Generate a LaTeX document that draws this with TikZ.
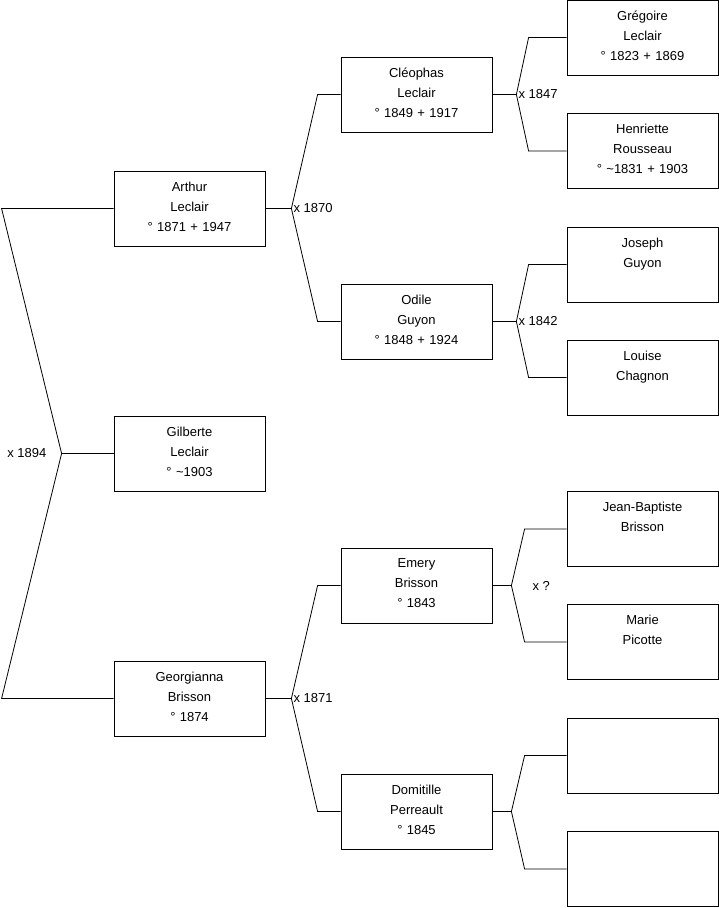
\documentclass[tikz,border=0pt]{standalone}
\usepackage{fontspec}
\setmainfont{Liberation Sans}
\usepackage{tikz}
\usetikzlibrary{calc, positioning}

\tikzset{
  person/.style={draw, line width=0.8pt, minimum width=151pt, minimum height=75pt,
    text width=145pt, inner sep=3pt, align=center, font=\fontsize{13}{20}\selectfont,
    execute at end node={\rule[-4pt]{0pt}{4pt}}},
  link/.style={line width=0.8pt},
  union/.style={font=\fontsize{13}{16}\selectfont, inner sep=1pt}
}

\begin{document}
\begin{tikzpicture}[x=1pt, y=-1pt]
  \useasboundingbox (0,0) rectangle (719,908);

  % Child
  \node[person] (gilberte) at (189.5,453.5) {Gilberte\\Leclair\\° \textasciitilde1903};

  % Parents
  \node[person] (arthur) at (189.5,208.5) {Arthur\\Leclair\\° 1871 + 1947};
  \node[person] (georgianna) at (189.5,698.5) {Georgianna\\Brisson\\° 1874};

  % Grandparents
  \node[person] (cleophas) at (416.5,94.5) {Cléophas\\Leclair\\° 1849 + 1917};
  \node[person] (odile) at (416.5,321.5) {Odile\\Guyon\\° 1848 + 1924};
  \node[person] (emery) at (416.5,585.5) {Emery\\Brisson\\° 1843};
  \node[person] (domitille) at (416.5,811.5) {Domitille\\Perreault\\° 1845};

  % Great-grandparents
  \node[person] (gregoire) at (642.5,37.5) {Grégoire\\Leclair\\° 1823 + 1869};
  \node[person] (henriette) at (642.5,151) {Henriette\\Rousseau\\° \textasciitilde1831 + 1903};
  \node[person] (joseph) at (642.5,264.5) {Joseph\\Guyon\\\mbox{}};
  \node[person] (louise) at (642.5,377.5) {Louise\\Chagnon\\\mbox{}};
  \node[person] (jeanbaptiste) at (642.5,529) {Jean-Baptiste\\Brisson\\\mbox{}};
  \node[person] (marie) at (642.5,642) {Marie\\Picotte\\\mbox{}};
  \node[person] (unknownA) at (642.5,755.5) {};
  \node[person] (unknownB) at (642.5,869) {};

  % Marriage forks
  \coordinate (x1894) at ($(gilberte.west)+(-52,0)$);
  \coordinate (x1870) at ($(arthur.east)+(26,0)$);
  \coordinate (x1871) at ($(georgianna.east)+(26,0)$);
  \coordinate (x1847) at ($(cleophas.east)+(24,0)$);
  \coordinate (x1842) at ($(odile.east)+(24,0)$);
  \coordinate (xunknown) at ($(emery.east)+(19,0)$);
  \coordinate (xperreault) at ($(domitille.east)+(19,0)$);

  % Connectors
  \draw[link] (gilberte) -- (x1894);
  \draw[link] (arthur) -- ($(arthur.west)+(-112,0)$) -- (x1894)
    -- ($(georgianna.west)+(-112,0)$) -- (georgianna);

  \draw[link] (arthur) -- (x1870);
  \draw[link] (cleophas) -- ($(cleophas.west)+(-23,0)$) -- (x1870)
    -- ($(odile.west)+(-23,0)$) -- (odile);
  \draw[link] (georgianna) -- (x1871);
  \draw[link] (emery) -- ($(emery.west)+(-23,0)$) -- (x1871)
    -- ($(domitille.west)+(-23,0)$) -- (domitille);

  \draw[link] (cleophas) -- (x1847);
  \draw[link] (gregoire) -- ($(gregoire.west)+(-38,0)$) -- (x1847)
    -- ($(henriette.west)+(-38,0)$) -- (henriette);
  \draw[link] (odile) -- (x1842);
  \draw[link] (joseph) -- ($(joseph.west)+(-38,0)$) -- (x1842)
    -- ($(louise.west)+(-38,0)$) -- (louise);
  \draw[link] (emery) -- (xunknown);
  \draw[link] (jeanbaptiste) -- ($(jeanbaptiste.west)+(-42,0)$) -- (xunknown)
    -- ($(marie.west)+(-42,0)$) -- (marie);
  \draw[link] (domitille) -- (xperreault);
  \draw[link] (unknownA) -- ($(unknownA.west)+(-42,0)$) -- (xperreault)
    -- ($(unknownB.west)+(-42,0)$) -- (unknownB);

  % Marriage labels
  \node[union, left=14pt of x1894] (m1894) {x 1894};
  \node[union, right=1pt of x1870] (m1870) {x 1870};
  \node[union, right=1pt of x1871] (m1871) {x 1871};
  \node[union, right=1pt of x1847] (m1847) {x 1847};
  \node[union, right=1pt of x1842] (m1842) {x 1842};
  \node[union, right=20pt of xunknown] (munknown) {x ?};
\end{tikzpicture}
\end{document}
